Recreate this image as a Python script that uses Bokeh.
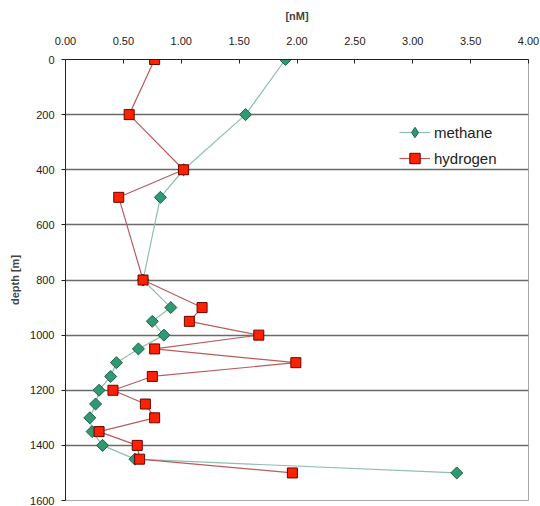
import numpy as np
from bokeh.plotting import figure
from bokeh.models import Range1d, FixedTicker, NumeralTickFormatter, Legend, LegendItem
from bokeh.embed import file_html
from bokeh.resources import INLINE

# data
depth = [0, 200, 400, 500, 800, 900, 950, 1000, 1050, 1100, 1150, 1200,
         1250, 1300, 1350, 1400, 1450, 1500]
methane = [1.90, 1.555, 1.02, 0.82, 0.67, 0.91, 0.75, 0.85, 0.63, 0.44, 0.39, 0.29,
           0.26, 0.21, 0.23, 0.32, 0.60, 3.38]
hydrogen = [0.77, 0.55, 1.02, 0.46, 0.67, 1.18, 1.07, 1.67, 0.77, 1.99, 0.75, 0.41,
            0.69, 0.77, 0.29, 0.62, 0.64, 1.96]
x_ticks = [0, 0.5, 1.0, 1.5, 2.0, 2.5, 3.0, 3.5, 4.0]
y_ticks = [0, 200, 400, 600, 800, 1000, 1200, 1400, 1600]

FONT = "Liberation Sans"

p = figure(width=540, height=506, output_backend="svg", toolbar_location=None,
           x_axis_location="above",
           x_range=Range1d(0, 4), y_range=Range1d(1600, 0),
           min_border_left=65, min_border_right=12, min_border_top=59, min_border_bottom=6)

p.background_fill_color = "white"
p.outline_line_color = "#a8a8a8"
p.outline_line_width = 1

# grid
p.xgrid.grid_line_color = None
p.ygrid.ticker = FixedTicker(ticks=y_ticks)
p.ygrid.grid_line_color = "#6a6a6a"
p.ygrid.grid_line_width = 1.6

# x axis (top)
xa = p.xaxis[0]
xa.ticker = FixedTicker(ticks=x_ticks)
xa.formatter = NumeralTickFormatter(format="0.00")
xa.axis_label = "[nM]"
xa.axis_label_text_font = FONT
xa.axis_label_text_font_style = "bold"
xa.axis_label_text_font_size = "11px"
xa.axis_label_standoff = 12
xa.major_label_text_font = FONT
xa.major_label_text_font_size = "11px"
xa.major_label_text_color = "#222222"
xa.major_label_standoff = 15
xa.axis_line_color = "#222222"
xa.major_tick_in = 4
xa.major_tick_out = 0
xa.minor_tick_line_color = None
xa.major_tick_line_color = "#222222"

# y axis (left)
ya = p.yaxis[0]
ya.ticker = FixedTicker(ticks=y_ticks)
ya.axis_label = "depth [m]"
ya.axis_label_text_font = FONT
ya.axis_label_text_font_style = "bold"
ya.axis_label_text_font_size = "11px"
ya.axis_label_standoff = 6
ya.major_label_text_font = FONT
ya.major_label_text_font_size = "11px"
ya.major_label_text_color = "#222222"
ya.major_label_standoff = 7
ya.axis_line_color = "#222222"
ya.major_tick_in = 0
ya.major_tick_out = 4
ya.minor_tick_line_color = None
ya.major_tick_line_color = "#222222"

# methane
ml = p.line(methane, depth, line_color="#8fbfae", line_width=1.2)
mm = p.scatter(methane, depth, marker="square", angle=np.pi / 4, size=8.5,
               fill_color="#2f9a72", line_color="#1f5f48", line_width=1)
# legend-only glyph for methane (diamond shape)
m_leg = p.scatter([np.nan], [np.nan], marker="diamond", size=13,
                  fill_color="#2f9a72", line_color="#1f5f48", line_width=1)
# hydrogen
hl = p.line(hydrogen, depth, line_color="#b85c5c", line_width=1.2)
hm = p.scatter(hydrogen, depth, marker="square", size=10,
               fill_color="#ff2200", line_color="#6a0000", line_width=1)

legend = Legend(items=[LegendItem(label="methane", renderers=[ml, m_leg]),
                       LegendItem(label="hydrogen", renderers=[hl, hm])],
                location=(332, 327))
legend.label_text_font = FONT
legend.label_text_font_size = "15px"
legend.label_text_color = "#222222"
legend.glyph_width = 31
legend.glyph_height = 26
legend.label_standoff = 4
legend.spacing = 0
legend.padding = 2
legend.margin = 0
legend.border_line_alpha = 0
legend.background_fill_alpha = 0
p.add_layout(legend)

open("out.html", "w").write(file_html(p, INLINE))
